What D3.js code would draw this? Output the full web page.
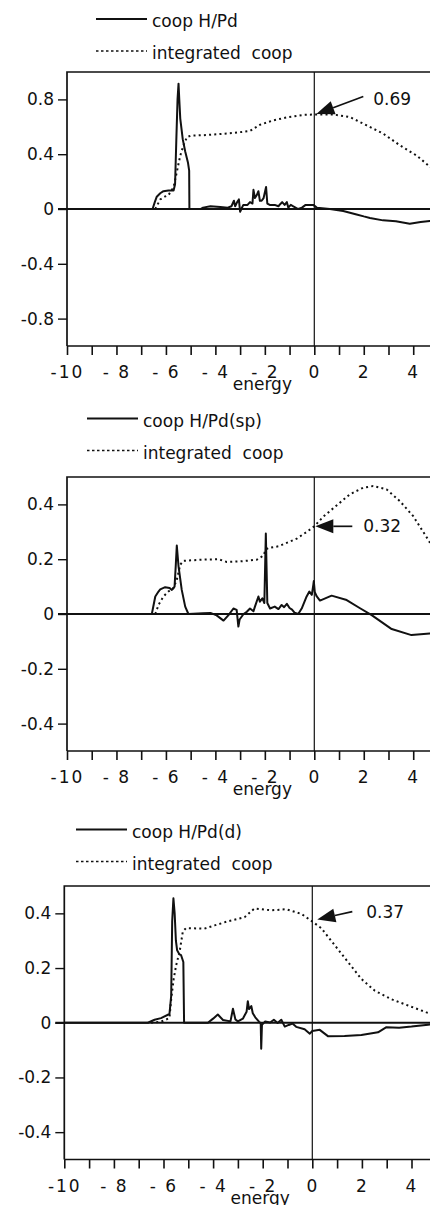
<!DOCTYPE html>
<html>
<head>
<meta charset="utf-8">
<script src="https://cdn.jsdelivr.net/npm/d3@7"></script>
<style>
  html, body { margin: 0; padding: 0; background: #fff; }
  svg { display: block; }
  text { font-family: "DejaVu Sans", sans-serif; fill: #111; }
</style>
</head>
<body>
<svg id="chart" width="430" height="1205"></svg>
<script>
// Energy axis (eV) shared by the three panels
const xTicks = d3.range(-10, 6, 1);
const xLabelValues = [-10, -8, -6, -4, -2, 0, 2, 4];
const xTickLabels = ["-10", "- 8", "- 6", "- 4", "- 2", "0", "2", "4"];

// Y ticks for each panel
const yTicksTotal = [0.8, 0.4, 0, -0.4, -0.8];
const yLabelsTotal = ["0.8", "0.4", "0", "-0.4", "-0.8"];
const yTicksPart = [0.4, 0.2, 0, -0.2, -0.4];
const yLabelsPart = ["0.4", "0.2", "0", "-0.2", "-0.4"];

// Legend names
const seriesNames = ["coop H/Pd", "coop H/Pd(sp)", "coop H/Pd(d)"];
const integratedName = "integrated  coop";

// Integrated COOP at the Fermi level (E = 0)
const fermiValues = [0.69, 0.32, 0.37];
const fermiLabels = ["0.69", "0.32", "0.37"];

// COOP H/Pd : [energy, coop]
const coopTotal = [[-10,0],[-6.54,0],[-6.45,0.05],[-6.37,0.09],[-6.23,0.115],[-6.1,0.13],[-5.9,0.135],[-5.69,0.135],
  [-5.63,0.18],[-5.58,0.5],[-5.53,0.8],[-5.49,0.915],[-5.46,0.8],[-5.42,0.66],[-5.32,0.51],[-5.22,0.42],[-5.11,0.34],
  [-5.06,0.28],[-5.05,0],[-4.6,0],[-4.5,0.01],[-4.2,0.02],[-3.8,0.015],[-3.5,0.01],[-3.35,0.02],[-3.25,0.06],[-3.2,0.02],
  [-3.12,0.05],[-3.05,0.07],[-3.0,-0.02],[-2.95,0.0],[-2.87,0.03],[-2.7,0.03],[-2.6,0.05],[-2.5,0.04],[-2.46,0.14],
  [-2.4,0.08],[-2.33,0.1],[-2.26,0.13],[-2.2,0.06],[-2.13,0.06],[-2.05,0.08],[-1.95,0.16],[-1.9,0.04],[-1.8,0.03],
  [-1.6,0.03],[-1.45,0.02],[-1.38,0.035],[-1.3,0.05],[-1.2,0.03],[-1.11,0.05],[-1.05,0.01],[-0.95,0.03],[-0.85,0.02],
  [-0.65,0.0],[-0.5,0.01],[-0.35,0.03],[-0.24,0.03],[-0.04,0.03],[0.1,0.01],[0.63,0],[1.17,-0.015],[1.71,-0.04],
  [2.0,-0.054],[2.25,-0.065],[2.78,-0.083],[3.3,-0.09],[3.86,-0.107],[4.3,-0.095],[4.67,-0.087],[5,-0.085]];

const integratedTotal = [[-6.43,0],[-6.23,0.07],[-6.05,0.09],[-5.9,0.10],[-5.69,0.16],[-5.56,0.27],[-5.42,0.39],
  [-5.29,0.465],[-5.15,0.525],[-5.0,0.535],[-4.35,0.54],[-3.27,0.555],[-2.6,0.57],[-2.19,0.615],[-1.66,0.647],
  [-1.05,0.671],[-0.44,0.687],[0,0.69],[0.77,0.69],[1.44,0.671],[2.12,0.61],[2.79,0.55],[3.46,0.465],[4.14,0.39],
  [4.6,0.32],[5,0.26]];

// COOP H/Pd(sp)
const coopSp = [[-10,0],[-6.57,0],[-6.43,0.064],[-6.3,0.082],[-6.23,0.09],[-6.03,0.098],[-5.85,0.095],[-5.76,0.088],
  [-5.65,0.10],[-5.6,0.18],[-5.56,0.25],[-5.49,0.174],[-5.36,0.088],[-5.22,0.027],[-5.09,0],[-4.5,0.003],[-4.2,0.004],
  [-3.95,-0.005],[-3.67,-0.024],[-3.47,-0.004],[-3.27,0.02],[-3.14,0.015],[-3.07,-0.046],[-3.02,-0.02],[-2.86,0],
  [-2.73,0.008],[-2.6,0.02],[-2.46,0.01],[-2.4,0.027],[-2.26,0.064],[-2.2,0.045],[-2.1,0.057],[-2.02,0.04],[-1.96,0.294],
  [-1.9,0.04],[-1.79,0.02],[-1.6,0.027],[-1.45,0.018],[-1.32,0.033],[-1.22,0.025],[-1.11,0.037],[-1.0,0.022],[-0.9,0.016],
  [-0.8,0.005],[-0.65,0],[-0.51,0.02],[-0.31,0.064],[-0.2,0.082],[-0.1,0.07],[-0.04,0.106],[-0.02,0.12],[0.02,0.08],
  [0.1,0.064],[0.23,0.049],[0.7,0.067],[1.31,0.051],[1.85,0.021],[2.32,-0.004],[3.13,-0.055],[3.93,-0.077],
  [4.67,-0.071],[5,-0.07]];

const integratedSp = [[-6.43,0],[-6.3,0.033],[-6.1,0.064],[-5.9,0.082],[-5.7,0.094],[-5.56,0.125],[-5.42,0.18],
  [-5.29,0.194],[-4.62,0.198],[-3.88,0.2],[-3.54,0.19],[-3.0,0.192],[-2.33,0.198],[-2.06,0.213],[-1.96,0.235],
  [-1.86,0.241],[-1.45,0.247],[-1.05,0.262],[-0.71,0.275],[-0.3,0.3],[0,0.32],[0.36,0.355],[0.9,0.396],[1.44,0.437],
  [1.98,0.461],[2.38,0.467],[2.92,0.455],[3.46,0.412],[4.0,0.357],[4.6,0.272],[5,0.21]];

// COOP H/Pd(d)
const coopD = [[-10,0],[-6.63,0],[-6.36,0.011],[-6.1,0.017],[-5.76,0.032],[-5.69,0.098],[-5.65,0.37],[-5.6,0.455],
  [-5.55,0.4],[-5.5,0.3],[-5.45,0.265],[-5.36,0.25],[-5.29,0.247],[-5.2,0.222],[-5.17,0],[-4.21,0],[-4.0,0.015],
  [-3.81,0.03],[-3.6,0.01],[-3.3,0.005],[-3.2,0.051],[-3.1,0.012],[-3.0,0.005],[-2.8,0.015],[-2.65,0.04],[-2.6,0.079],
  [-2.55,0.05],[-2.46,0.061],[-2.4,0.035],[-2.3,0.02],[-2.15,0.004],[-2.08,-0.002],[-2.06,-0.095],[-2.03,-0.008],
  [-1.9,0.005],[-1.7,0.001],[-1.55,0.011],[-1.4,-0.001],[-1.25,0.011],[-1.11,-0.014],[-0.95,-0.008],[-0.8,-0.003],
  [-0.65,-0.015],[-0.31,-0.024],[-0.1,-0.04],[0,-0.03],[0.3,-0.026],[0.63,-0.049],[1.3,-0.048],[1.98,-0.045],
  [2.65,-0.035],[2.99,-0.016],[3.5,-0.018],[4.0,-0.014],[4.67,-0.007],[5,-0.006]];

const integratedD = [[-6.5,0],[-6.1,0.004],[-5.76,0.017],[-5.69,0.086],[-5.59,0.16],[-5.49,0.21],[-5.35,0.26],
  [-5.22,0.334],[-5.09,0.346],[-4.35,0.344],[-3.94,0.356],[-3.4,0.371],[-2.73,0.386],[-2.33,0.418],[-1.66,0.411],
  [-1.05,0.415],[-0.44,0.398],[0,0.37],[0.36,0.346],[0.9,0.284],[1.44,0.222],[1.98,0.16],[2.52,0.117],[3.19,0.086],
  [3.86,0.063],[4.6,0.038],[5,0.03]];

// Panel layout
const panels = [
  { coop: coopTotal, integ: integratedTotal, yDomain: [-1, 1], yTicks: yTicksTotal, yLabels: yLabelsTotal,
    left: 67, zeroX: 314.3, top: 72, bottom: 346, legendY: 19, legendX: 96,
    arrowTip: [2, -0.5], arrowTail: [49, -18], labelPos: [59, -9.7] },
  { coop: coopSp, integ: integratedSp, yDomain: [-0.5, 0.5], yTicks: yTicksPart, yLabels: yLabelsPart,
    left: 67, zeroX: 314.3, top: 477, bottom: 751, legendY: 418.5, legendX: 87,
    arrowTip: [1, 0], arrowTail: [38, 0], labelPos: [49, 6] },
  { coop: coopD, integ: integratedD, yDomain: [-0.5, 0.5], yTicks: yTicksPart, yLabels: yLabelsPart,
    left: 64.3, zeroX: 312.3, top: 886, bottom: 1159.5, legendY: 829.5, legendX: 76,
    arrowTip: [5, -2], arrowTail: [40, -10], labelPos: [54, -3.8] }
];

const svg = d3.select("#chart");
const FONT = 17;

panels.forEach((p, i) => {
  const unit = (p.zeroX - p.left) / 10;
  const x = d3.scaleLinear().domain([-10, 5]).range([p.left, p.left + 15 * unit]);
  const y = d3.scaleLinear().domain(p.yDomain).range([p.bottom, p.top]);
  const right = 445;
  const g = svg.append("g");

  // Legend
  const lg = g.append("g");
  lg.append("line").attr("x1", p.legendX).attr("x2", p.legendX + 51)
    .attr("y1", p.legendY).attr("y2", p.legendY)
    .attr("stroke", "#111").attr("stroke-width", 1.9);
  lg.append("text").attr("x", p.legendX + 56).attr("y", p.legendY + 8)
    .attr("font-size", FONT).text(seriesNames[i]);
  lg.append("line").attr("x1", p.legendX).attr("x2", p.legendX + 51)
    .attr("y1", p.legendY + 32).attr("y2", p.legendY + 32)
    .attr("stroke", "#111").attr("stroke-width", 1.3).attr("stroke-dasharray", "2.5,2.5");
  lg.append("text").attr("x", p.legendX + 56).attr("y", p.legendY + 40)
    .attr("font-size", FONT).attr("xml:space", "preserve").style("white-space", "pre")
    .text(integratedName);

  // Frame
  g.append("path")
    .attr("d", `M${p.left},${p.bottom}V${p.top}H${right}M${p.left},${p.bottom}H${right}`)
    .attr("fill", "none").attr("stroke", "#111").attr("stroke-width", 1.7);

  // Energy axis
  const xAxis = d3.axisBottom(x).tickValues(xTicks).tickSize(9).tickPadding(11)
    .tickFormat(d => {
      const k = xLabelValues.indexOf(d);
      return k >= 0 ? xTickLabels[k] : "";
    });
  const xg = g.append("g").attr("transform", `translate(0,${p.bottom})`).call(xAxis);
  xg.select(".domain").remove();
  xg.selectAll(".tick line").attr("stroke", "#111").attr("stroke-width", 1.6);
  xg.selectAll(".tick text").attr("font-family", "DejaVu Sans").attr("font-size", FONT)
    .attr("fill", "#111").style("letter-spacing", "2px");

  g.append("text").attr("x", x(-2.1)).attr("y", p.bottom + 44)
    .attr("text-anchor", "middle").attr("font-size", FONT).text("energy");

  // COOP axis
  const yAxis = d3.axisLeft(y).tickValues(p.yTicks).tickSize(9).tickPadding(4)
    .tickFormat((d, k) => p.yLabels[k]);
  const yg = g.append("g").attr("transform", `translate(${p.left},0)`).call(yAxis);
  yg.select(".domain").remove();
  yg.selectAll(".tick line").attr("stroke", "#111").attr("stroke-width", 1.4);
  yg.selectAll(".tick text").attr("font-family", "DejaVu Sans").attr("font-size", FONT).attr("fill", "#111");

  // Zero line and Fermi level
  g.append("line").attr("x1", p.left - 9).attr("x2", right)
    .attr("y1", y(0)).attr("y2", y(0))
    .attr("stroke", "#111").attr("stroke-width", 2.1);
  g.append("line").attr("x1", x(0)).attr("x2", x(0))
    .attr("y1", p.top).attr("y2", p.bottom)
    .attr("stroke", "#111").attr("stroke-width", 1.2);

  const line = d3.line().x(d => x(d[0])).y(d => y(d[1]));

  // Integrated COOP (dotted)
  g.append("path").datum(p.integ).attr("d", line)
    .attr("fill", "none").attr("stroke", "#111").attr("stroke-width", 2)
    .attr("stroke-dasharray", "2,3.2");

  // COOP (solid)
  g.append("path").datum(p.coop).attr("d", line)
    .attr("fill", "none").attr("stroke", "#111").attr("stroke-width", 2)
    .attr("stroke-linejoin", "round");

  // Arrow pointing at the integrated value at E = 0
  const px = x(0), py = y(fermiValues[i]);
  const tip = [px + p.arrowTip[0], py + p.arrowTip[1]];
  const tail = [px + p.arrowTail[0], py + p.arrowTail[1]];
  const dx = tail[0] - tip[0], dy = tail[1] - tip[1];
  const len = Math.hypot(dx, dy), ux = dx / len, uy = dy / len;
  const headL = 18, headW = 7;
  const base = [tip[0] + ux * headL, tip[1] + uy * headL];
  g.append("line").attr("x1", base[0]).attr("y1", base[1]).attr("x2", tail[0]).attr("y2", tail[1])
    .attr("stroke", "#111").attr("stroke-width", 1.7);
  g.append("path")
    .attr("d", `M${tip[0]},${tip[1]}L${base[0] - uy * headW},${base[1] + ux * headW}L${base[0] + uy * headW},${base[1] - ux * headW}Z`)
    .attr("fill", "#111");
  g.append("text").attr("x", px + p.labelPos[0]).attr("y", py + p.labelPos[1])
    .attr("font-size", FONT).text(fermiLabels[i]);
});
</script>
</body>
</html>
